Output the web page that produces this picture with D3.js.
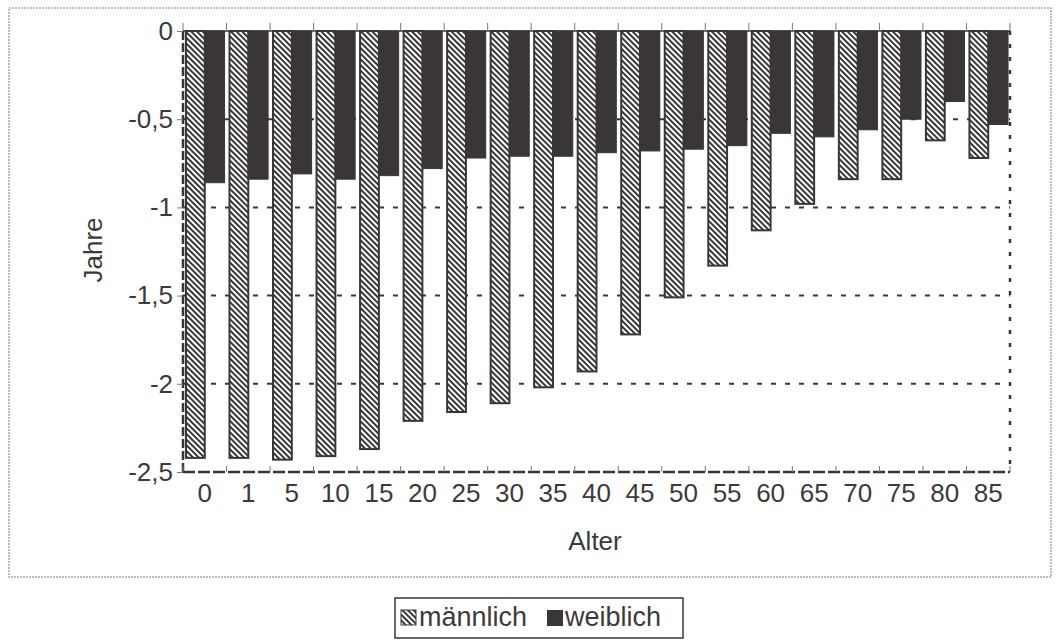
<!DOCTYPE html>
<html><head><meta charset="utf-8">
<script src="https://cdn.jsdelivr.net/npm/d3@7"></script>
<style>
body{margin:0;background:#fff;}
text{font-family:Arial,"Liberation Sans",sans-serif;fill:#3c3a3a;}
</style></head>
<body><svg id="c" width="1056" height="641"></svg>
<script>
const categories = ["0","1","5","10","15","20","25","30","35","40","45","50","55","60","65","70","75","80","85"];
const maleValues = [-2.42,-2.42,-2.43,-2.41,-2.37,-2.21,-2.16,-2.11,-2.02,-1.93,-1.72,-1.51,-1.33,-1.13,-0.98,-0.84,-0.84,-0.62,-0.72];
const femaleValues = [-0.86,-0.84,-0.81,-0.84,-0.82,-0.78,-0.72,-0.71,-0.71,-0.69,-0.68,-0.67,-0.65,-0.58,-0.60,-0.56,-0.50,-0.40,-0.53];
const yTicks = [0,-0.5,-1,-1.5,-2,-2.5];
const seriesNames = ["männlich","weiblich"];

const ink = "#3a3636";
const FONT = "Arial, 'Liberation Sans', sans-serif";
const svg = d3.select("#c");
const defs = svg.append("defs");
const pat = defs.append("pattern").attr("id","hatch").attr("patternUnits","userSpaceOnUse")
  .attr("width",4).attr("height",4).attr("patternTransform","rotate(-45)");
pat.append("rect").attr("width",4).attr("height",4).attr("fill","#fff");
pat.append("rect").attr("x",0).attr("width",2).attr("height",4).attr("fill",ink);

// outer border
svg.append("rect").attr("x",9).attr("y",8).attr("width",1042).attr("height",569)
  .attr("fill","none").attr("stroke","#aaa").attr("stroke-width",1.5).attr("stroke-dasharray","2,1");

const L=183,R=1010,T=31,B=472;
const x = d3.scaleBand().domain(categories).range([L,R]).paddingInner(0.09).paddingOuter(0.045);
const y = d3.scaleLinear().domain([-2.5,0]).range([B,T]);
const fmt = d => d===0 ? "0" : String(d).replace(".",",");

// gridlines
svg.append("g").selectAll("line").data(yTicks.filter(d=>d!==0 && d!==-2.5)).join("line")
  .attr("x1",L).attr("x2",R).attr("y1",d=>y(d)).attr("y2",d=>y(d))
  .attr("stroke",ink).attr("stroke-width",2).attr("stroke-dasharray","5,9");

// bars
const bw = x.bandwidth()/2;
const g = svg.append("g");
g.selectAll(".m").data(categories).join("rect")
  .attr("x",d=>x(d)+1).attr("y",y(0)).attr("width",bw-1)
  .attr("height",(d,i)=>y(maleValues[i])-y(0))
  .attr("fill","url(#hatch)").attr("stroke",ink).attr("stroke-width",2);
g.selectAll(".f").data(categories).join("rect")
  .attr("x",d=>x(d)+bw).attr("y",y(0)).attr("width",bw)
  .attr("height",(d,i)=>y(femaleValues[i])-y(0))
  .attr("fill",ink).attr("stroke",ink).attr("stroke-width",1);

// plot frame
svg.append("line").attr("x1",L).attr("x2",L).attr("y1",T).attr("y2",B)
  .attr("stroke",ink).attr("stroke-width",2.5).attr("stroke-dasharray","9,3");
svg.append("line").attr("x1",R).attr("x2",R).attr("y1",T).attr("y2",B)
  .attr("stroke",ink).attr("stroke-width",2.5).attr("stroke-dasharray","4,9");
svg.append("line").attr("x1",L).attr("x2",R).attr("y1",B).attr("y2",B)
  .attr("stroke",ink).attr("stroke-width",2.5).attr("stroke-dasharray","12,3");
svg.append("line").attr("x1",L).attr("x2",R).attr("y1",T).attr("y2",T)
  .attr("stroke",ink).attr("stroke-width",1.5);

// category ticks
const bounds = d3.range(categories.length+1).map(i=>L+ i*(R-L)/categories.length);
svg.append("g").selectAll("line").data(bounds).join("line")
  .attr("x1",d=>d).attr("x2",d=>d).attr("y1",T-8).attr("y2",T)
  .attr("stroke","#777").attr("stroke-width",1);
svg.append("g").selectAll("line").data(bounds).join("line")
  .attr("x1",d=>d).attr("x2",d=>d).attr("y1",B-6).attr("y2",B)
  .attr("stroke","#777").attr("stroke-width",1);

// y axis
const yAxis = svg.append("g").attr("transform",`translate(${L},0)`)
  .call(d3.axisLeft(y).tickValues(yTicks).tickFormat(fmt).tickSize(6).tickPadding(4));
yAxis.select(".domain").remove();
yAxis.selectAll("line").attr("stroke","#777");
yAxis.selectAll("text").attr("font-size",26).attr("fill","#3c3a3a").style("font-family",FONT);

// x axis labels
const xAxis = svg.append("g").attr("transform",`translate(0,${B})`)
  .call(d3.axisBottom(x).tickSize(0).tickPadding(12));
xAxis.select(".domain").remove();
xAxis.selectAll("text").attr("font-size",26).attr("fill","#3c3a3a").style("font-family",FONT);

// axis titles
svg.append("text").attr("x",595).attr("y",550).attr("text-anchor","middle").attr("font-size",26).text("Alter");
svg.append("text").attr("transform","translate(102,250) rotate(-90)").attr("text-anchor","middle").attr("font-size",26).text("Jahre");

// legend
const lg = svg.append("g");
lg.append("rect").attr("x",395).attr("y",598).attr("width",288).attr("height",40)
  .attr("fill","#fff").attr("stroke",ink).attr("stroke-width",1.5);
lg.append("rect").attr("x",401).attr("y",610).attr("width",15).attr("height",15).attr("fill","url(#hatch)").attr("stroke",ink).attr("stroke-width",1);
lg.append("text").attr("x",419).attr("y",626).attr("font-size",27).text(seriesNames[0]);
lg.append("rect").attr("x",547).attr("y",610).attr("width",16).attr("height",16).attr("fill",ink);
lg.append("text").attr("x",565).attr("y",626).attr("font-size",27).text(seriesNames[1]);
</script></body></html>
